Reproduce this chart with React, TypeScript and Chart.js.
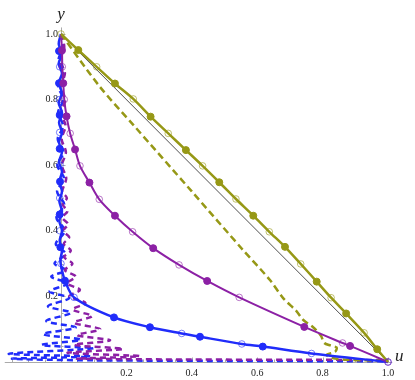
import React, { useEffect, useRef } from "react";
import { Chart, registerables } from "chart.js";

Chart.register(...registerables);

type P = { x: number; y: number };
const pts = (a: number[][]): P[] => a.map(([x, y]) => ({ x, y }));

const xTicks = [0.2, 0.4, 0.6, 0.8, 1.0];
const yTicks = [0.2, 0.4, 0.6, 0.8, 1.0];
const xLabel = "u";
const yLabel = "y";

const OLIVE = "rgb(150,152,22)";
const PURPLE = "rgb(140,32,165)";
const BLUE = "rgb(32,44,250)";

const diagonal = [[0, 1], [1, 0]];

const oliveLine = [
  [0, 1], [0.053, 0.951], [0.109, 0.9], [0.165, 0.849], [0.221, 0.802], [0.274, 0.748],
  [0.328, 0.697], [0.382, 0.646], [0.433, 0.598], [0.484, 0.548], [0.535, 0.497],
  [0.588, 0.446], [0.637, 0.397], [0.685, 0.351], [0.733, 0.299], [0.782, 0.245],
  [0.826, 0.196], [0.872, 0.148], [0.927, 0.089], [0.967, 0.039], [1, 0],
];
const oliveFilled = [
  [0.053, 0.951], [0.165, 0.849], [0.274, 0.748], [0.382, 0.646], [0.484, 0.548],
  [0.588, 0.446], [0.685, 0.351], [0.782, 0.245], [0.872, 0.148], [0.967, 0.039],
];
const oliveOpen = [
  [0, 1], [0.109, 0.9], [0.221, 0.802], [0.328, 0.697], [0.433, 0.598], [0.535, 0.497],
  [0.637, 0.397], [0.733, 0.299], [0.826, 0.196], [0.927, 0.089],
];
const oliveDashed = [
  [0, 1], [0.119, 0.839], [0.221, 0.723], [0.4, 0.52], [0.557, 0.341], [0.639, 0.25],
  [0.68, 0.194], [0.72, 0.155], [0.741, 0.128], [0.771, 0.106], [0.795, 0.08],
  [0.805, 0.058], [0.825, 0.05], [0.843, 0.044], [0.838, 0.031], [0.812, 0.022],
  [0.83, 0.012], [0.873, 0.007], [1, 0.004],
];

const purpleLine = [
  [0, 1], [0.003, 0.95], [0.004, 0.9], [0.007, 0.85], [0.01, 0.8], [0.017, 0.749],
  [0.028, 0.697], [0.043, 0.648], [0.058, 0.598], [0.087, 0.547], [0.117, 0.496],
  [0.165, 0.446], [0.219, 0.397], [0.282, 0.347], [0.361, 0.296], [0.447, 0.247],
  [0.545, 0.197], [0.744, 0.107], [0.861, 0.058], [0.884, 0.049], [1, 0],
];
const purpleFilled = [
  [0.003, 0.95], [0.007, 0.85], [0.017, 0.749], [0.043, 0.648], [0.087, 0.547],
  [0.165, 0.446], [0.282, 0.347], [0.447, 0.247], [0.744, 0.107], [0.884, 0.049],
];
const purpleOpen = [
  [0.004, 0.9], [0.01, 0.8], [0.028, 0.697], [0.058, 0.598], [0.117, 0.496],
  [0.219, 0.397], [0.361, 0.296], [0.545, 0.197], [0.861, 0.058], [1, 0],
];
const purpleDashed = [
  [0, 1], [0.01, 0.96], [-0.002, 0.92], [0.012, 0.88], [0, 0.84], [0.013, 0.8],
  [0.001, 0.76], [0.014, 0.72], [0.002, 0.68], [0.015, 0.64], [0.003, 0.6],
  [0.016, 0.56], [0.004, 0.52], [0.018, 0.5], [0.005, 0.48], [0.02, 0.46],
  [0.004, 0.44], [0.022, 0.42], [0.006, 0.4], [0.025, 0.38], [0.008, 0.36],
  [0.03, 0.34], [0.01, 0.32], [0.035, 0.3], [0.012, 0.28], [0.045, 0.26],
  [0.018, 0.24], [0.058, 0.22], [0.025, 0.2], [0.075, 0.18], [0.035, 0.16],
  [0.095, 0.14], [0.04, 0.12], [0.12, 0.1], [0.05, 0.082], [0.15, 0.066],
  [0.04, 0.052], [0.19, 0.04], [0.02, 0.028], [0.24, 0.018], [0.05, 0.01], [1, 0.006],
];

const blueLine = [
  [0, 1], [-0.007, 0.97], [0.003, 0.94], [-0.007, 0.91], [0.003, 0.88], [-0.007, 0.85],
  [0.003, 0.82], [-0.007, 0.79], [0.003, 0.76], [-0.006, 0.73], [0.003, 0.7],
  [-0.006, 0.67], [0.003, 0.64], [-0.006, 0.61], [0.003, 0.58], [-0.005, 0.55],
  [0.003, 0.52], [-0.005, 0.49], [0.003, 0.46], [-0.005, 0.43], [0.003, 0.4],
  [-0.004, 0.37], [0.003, 0.34], [-0.002, 0.31], [0.003, 0.28], [0.012, 0.248],
  [0.04, 0.197], [0.162, 0.136], [0.272, 0.106], [0.369, 0.087], [0.425, 0.077],
  [0.553, 0.055], [0.617, 0.047], [0.766, 0.026], [1, 0],
];
const blueFilled = [
  [-0.006, 0.948], [-0.006, 0.85], [-0.004, 0.753], [-0.004, 0.65], [-0.003, 0.55],
  [-0.004, 0.45], [-0.002, 0.35], [0.012, 0.248], [0.162, 0.136], [0.272, 0.106],
  [0.425, 0.077], [0.617, 0.047],
];
const blueOpen = [
  [-0.004, 0.9], [-0.005, 0.8], [-0.004, 0.7], [-0.003, 0.6], [-0.004, 0.5],
  [-0.003, 0.4], [0, 0.3], [0.04, 0.197], [0.369, 0.087], [0.553, 0.055],
  [0.766, 0.026], [1, 0],
];
const blueDashed = [
  [0, 1], [0.006, 0.96], [-0.008, 0.92], [0.006, 0.88], [-0.008, 0.84], [0.007, 0.8],
  [-0.009, 0.76], [0.007, 0.72], [-0.01, 0.68], [0.008, 0.64], [-0.011, 0.6],
  [0.009, 0.56], [-0.012, 0.52], [0.01, 0.48], [-0.014, 0.44], [0.012, 0.4],
  [-0.016, 0.36], [0.014, 0.33], [-0.02, 0.3], [0.015, 0.28], [-0.03, 0.26],
  [0.02, 0.24], [-0.035, 0.215], [0.025, 0.195], [-0.04, 0.17], [0.03, 0.15],
  [-0.045, 0.125], [0.045, 0.105], [-0.055, 0.085], [0.06, 0.068], [-0.06, 0.052],
  [0.1, 0.042], [-0.16, 0.025], [0.09, 0.017], [-0.15, 0.01], [0.1, 0.005], [1, 0.002],
];

const X0 = -61 / 327;
const X1 = (415 - 61) / 327;
const Y0 = (362 - 380) / 328;
const Y1 = 362 / 328;

const axesPlugin = {
  id: "mmaAxes",
  beforeDatasetsDraw(chart: any) {
    const { ctx, scales } = chart;
    const xs = scales.x;
    const ys = scales.y;
    const ox = xs.getPixelForValue(0);
    const oy = ys.getPixelForValue(0);
    ctx.save();
    ctx.strokeStyle = "#aaaaaa";
    ctx.lineWidth = 1;
    ctx.beginPath();
    ctx.moveTo(xs.getPixelForValue(-0.172), oy + 0.5);
    ctx.lineTo(xs.getPixelForValue(1.013), oy + 0.5);
    ctx.moveTo(ox + 0.5, oy);
    ctx.lineTo(ox + 0.5, ys.getPixelForValue(1.02));
    ctx.stroke();
    ctx.beginPath();
    for (let i = -3; i <= 20; i++) {
      const v = i * 0.05;
      if (i === 0) continue;
      const px = Math.round(xs.getPixelForValue(v)) + 0.5;
      const len = i % 4 === 0 ? 4.5 : 2.5;
      ctx.moveTo(px, oy);
      ctx.lineTo(px, oy - len);
    }
    for (let i = 1; i <= 20; i++) {
      const v = i * 0.05;
      const py = Math.round(ys.getPixelForValue(v)) + 0.5;
      const len = i % 4 === 0 ? 4.5 : 2.5;
      ctx.moveTo(ox, py);
      ctx.lineTo(ox + len, py);
    }
    ctx.stroke();
    ctx.fillStyle = "#222";
    ctx.font = "10px 'Liberation Serif', serif";
    ctx.textAlign = "center";
    ctx.textBaseline = "top";
    xTicks.forEach((v) => {
      ctx.fillText(v.toFixed(1), xs.getPixelForValue(v), oy + 6);
    });
    ctx.textAlign = "right";
    ctx.textBaseline = "middle";
    yTicks.forEach((v) => {
      ctx.fillText(v.toFixed(1), ox - 3, ys.getPixelForValue(v));
    });
    ctx.font = "italic 17px 'Liberation Serif', serif";
    ctx.textAlign = "center";
    ctx.textBaseline = "middle";
    ctx.fillText(yLabel, ox, 15);
    ctx.textAlign = "left";
    ctx.fillText(xLabel, xs.getPixelForValue(1.0) + 7, oy - 5);
    ctx.restore();
  },
};

function lineDs(data: number[][], color: string, width: number, dash: number[], order: number) {
  return {
    data: pts(data),
    showLine: true,
    borderColor: color,
    borderWidth: width,
    borderDash: dash,
    pointRadius: 0,
    tension: 0.3,
    fill: false,
    clip: false,
    order,
  };
}
function markDs(data: number[][], color: string, filled: boolean, order: number) {
  return {
    data: pts(data),
    showLine: false,
    pointRadius: filled ? 3.5 : 3.3,
    pointBorderWidth: 1,
    pointBackgroundColor: filled ? color : "rgba(0,0,0,0)",
    pointBorderColor: filled ? color : color.replace("rgb", "rgba").replace(")", ",0.6)"),
    clip: false,
    order,
  };
}

export default function App() {
  const ref = useRef<HTMLCanvasElement | null>(null);
  useEffect(() => {
    if (!ref.current) return;
    const chart = new Chart(ref.current, {
      type: "scatter",
      data: {
        datasets: [
          lineDs(blueDashed, BLUE, 2.5, [6, 4], 10),
          lineDs(purpleDashed, PURPLE, 2.5, [6, 4], 9),
          lineDs(oliveDashed, OLIVE, 2.5, [7, 4], 8),
          { ...lineDs(diagonal, "#222", 0.8, [], 7), tension: 0 },
          lineDs(blueLine, BLUE, 2.5, [], 6),
          lineDs(purpleLine, PURPLE, 2, [], 5),
          lineDs(oliveLine, OLIVE, 2.5, [], 4),
          markDs(blueFilled, BLUE, true, 3),
          markDs(blueOpen, BLUE, false, 3),
          markDs(purpleFilled, PURPLE, true, 2),
          markDs(purpleOpen, PURPLE, false, 2),
          markDs(oliveFilled, OLIVE, true, 1),
          markDs(oliveOpen, OLIVE, false, 1),
        ] as any,
      },
      options: {
        animation: false,
        responsive: false,
        maintainAspectRatio: false,
        layout: { padding: 0, autoPadding: false },
        plugins: { legend: { display: false }, tooltip: { enabled: false } },
        scales: {
          x: { type: "linear", min: X0, max: X1, display: false },
          y: { type: "linear", min: Y0, max: Y1, display: false },
        },
      },
      plugins: [axesPlugin],
    });
    return () => chart.destroy();
  }, []);
  return (
    <div style={{ position: "absolute", left: 0, top: 0, width: 415, height: 380, background: "#fff" }}>
      <canvas ref={ref} width={415} height={380} />
    </div>
  );
}
